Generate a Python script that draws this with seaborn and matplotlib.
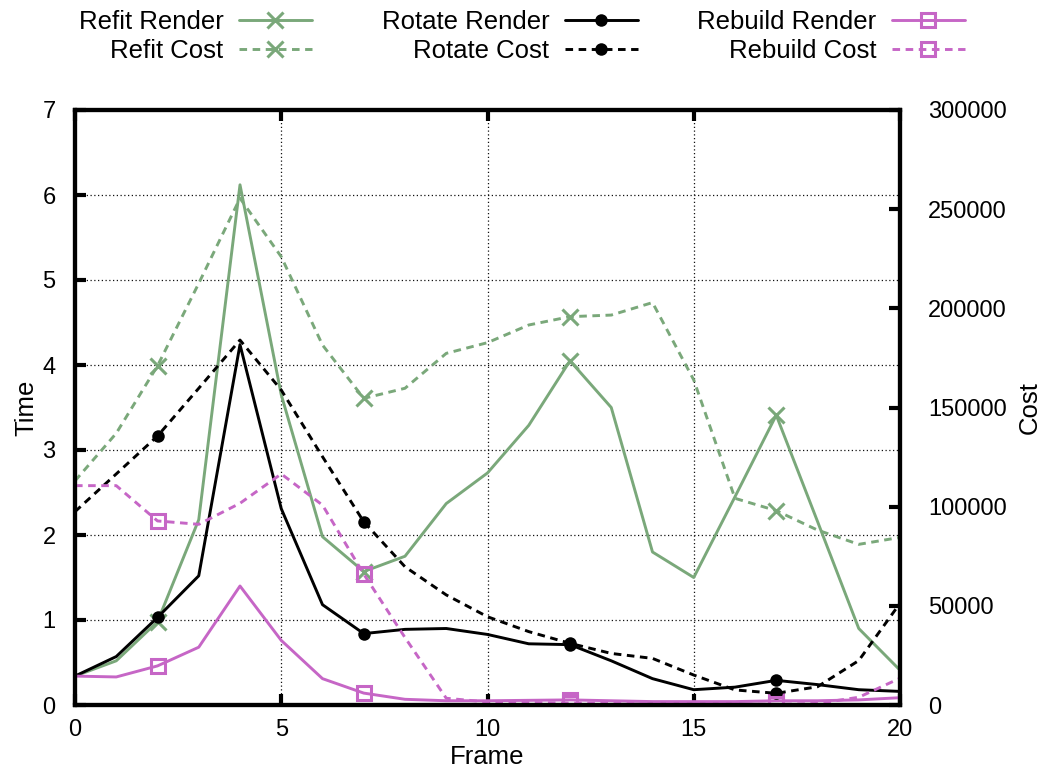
import numpy as np
import pandas as pd
import seaborn as sns
import matplotlib
matplotlib.use("Agg")
import matplotlib.pyplot as plt
from matplotlib.lines import Line2D

# ---- data -------------------------------------------------------------
frames = list(range(21))

refit_render = [0.34, 0.52, 0.98, 2.18, 6.12, 3.65, 1.98, 1.57, 1.75, 2.37, 2.73,
                3.29, 4.05, 3.50, 1.80, 1.50, 2.45, 3.41, 2.16, 0.90, 0.41]
rotate_render = [0.34, 0.57, 1.03, 1.52, 4.24, 2.31, 1.18, 0.84, 0.89, 0.90, 0.83,
                 0.72, 0.71, 0.52, 0.31, 0.18, 0.21, 0.29, 0.24, 0.18, 0.16]
rebuild_render = [0.34, 0.33, 0.46, 0.68, 1.40, 0.76, 0.31, 0.14, 0.067, 0.05, 0.05,
                  0.055, 0.06, 0.05, 0.04, 0.04, 0.04, 0.05, 0.05, 0.06, 0.086]

refit_cost = [113000, 137000, 171000, 212600, 255500, 226000, 181500, 154600, 159700,
              177300, 182700, 191600, 195800, 196600, 202900, 163900, 104200, 98000,
              88200, 81000, 84500]
rotate_cost = [97500, 116500, 135600, 159700, 184000, 158800, 125200, 92400, 69700,
               55500, 44500, 37000, 31100, 26000, 23500, 15100, 7600, 5900, 9200,
               22400, 51300]
rebuild_cost = [110600, 110600, 92800, 91100, 101700, 116500, 100800, 66000, 34000,
                3400, 1500, 1200, 1000, 900, 800, 700, 600, 300, 800, 3900, 13500]

time_ticks = list(range(0, 8))
cost_ticks = list(range(0, 300001, 50000))
frame_ticks = [0, 5, 10, 15, 20]

# ---- style ------------------------------------------------------------
sns.set_style("white")
plt.rcParams["font.family"] = ["Liberation Sans", "DejaVu Sans"]
plt.rcParams["text.color"] = "black"
plt.rcParams["axes.labelcolor"] = "black"
label_font = ["Liberation Sans Narrow", "Liberation Sans", "DejaVu Sans"]

GREEN = "#7aa87a"
BLACK = "#000000"
MAGENTA = "#c666c6"
LW = 2.1
DASH = (2.6, 1.9)
MEVERY = (2, 5)

fig = plt.figure(figsize=(10.45, 7.71), dpi=100)
ax = fig.add_axes([75 / 1045, 1 - 705 / 771, 825 / 1045, 595 / 771])
ax2 = ax.twinx()

df = pd.DataFrame({
    "Frame": frames,
    "Refit Render": refit_render, "Rotate Render": rotate_render,
    "Rebuild Render": rebuild_render,
    "Refit Cost": refit_cost, "Rotate Cost": rotate_cost,
    "Rebuild Cost": rebuild_cost,
})

series = [
    ("Refit Render", ax, GREEN, "-", "x", dict(ms=11, mew=2.2)),
    ("Refit Cost", ax2, GREEN, "--", "x", dict(ms=11, mew=2.2)),
    ("Rotate Render", ax, BLACK, "-", "o", dict(ms=9, mew=0)),
    ("Rotate Cost", ax2, BLACK, "--", "o", dict(ms=9, mew=0)),
    ("Rebuild Render", ax, MAGENTA, "-", "s", dict(ms=10, mew=2.2, mfc="none")),
    ("Rebuild Cost", ax2, MAGENTA, "--", "s", dict(ms=10, mew=2.2, mfc="none")),
]

handles = []
for name, a, col, ls, mk, mkw in series:
    line_kw = dict(color=col, lw=LW, marker=mk, markevery=MEVERY,
                   mec=col, **mkw)
    if ls == "--":
        line_kw["dashes"] = DASH
    sns.lineplot(data=df, x="Frame", y=name, ax=a, legend=False, **line_kw)
    proxy_kw = dict(color=col, lw=LW, marker=mk, mec=col, **mkw)
    if ls == "--":
        proxy_kw["dashes"] = DASH
    handles.append(Line2D([], [], label=name, **proxy_kw))

# ---- axes -------------------------------------------------------------
ax.set_xlim(0, 20)
ax.set_ylim(0, 7)
ax2.set_ylim(0, 300000)
ax.set_xticks(frame_ticks)
ax.set_yticks(time_ticks)
ax2.set_yticks(cost_ticks)

for a in (ax, ax2):
    for sp in a.spines.values():
        sp.set_linewidth(3.0)
        sp.set_color("black")
        sp.set_visible(True)

ax.grid(True, which="major", color="#111111", linestyle=(0, (1, 2.0)), linewidth=0.9)
ax2.grid(False)

ax.tick_params(axis="x", direction="in", length=8, width=3, top=True, bottom=True,
               labelsize=17, pad=10, colors="black")
ax.tick_params(axis="y", direction="in", length=8, width=3, left=True, right=False,
               labelsize=17, pad=14, colors="black")
ax2.tick_params(axis="y", direction="in", length=8, width=3, right=True, left=False,
                labelsize=17, pad=20, colors="black")

ax.set_xlabel("Frame", fontsize=18.5, family=label_font, labelpad=3)
ax.set_ylabel("Time", fontsize=18.5, family=label_font, labelpad=3)
ax2.set_ylabel("Cost", fontsize=18.5, family=label_font, labelpad=8)

# ---- legend: three stacked pairs along the top ------------------------
right_edges = [312, 638, 965]
for i, xr in enumerate(right_edges):
    fig.legend(handles=handles[2 * i:2 * i + 2], loc="upper right",
               bbox_to_anchor=(xr / 1045, 1 - 10 / 771), frameon=False,
               markerfirst=False, prop={"family": label_font, "size": 18.5},
               handlelength=2.85, handletextpad=0.6, labelspacing=0.2,
               borderpad=0, borderaxespad=0)

fig.savefig("out.png", dpi=100)
